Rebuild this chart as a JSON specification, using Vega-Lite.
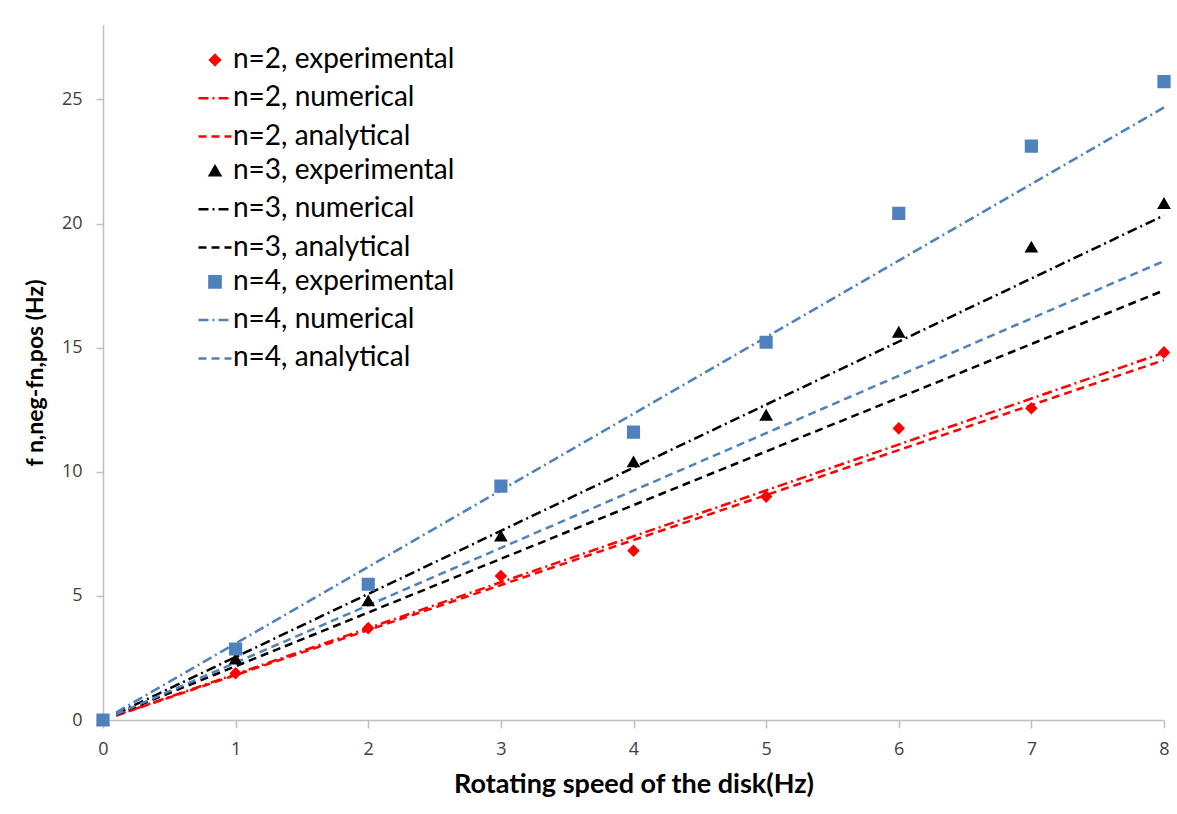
{
  "$schema": "https://vega.github.io/schema/vega-lite/v6.json",
  "width": 1061,
  "height": 695,
  "autosize": {"type": "none"},
  "padding": {"left": 103, "top": 25, "right": 13, "bottom": 94},
  "background": "white",
  "config": {
    "view": {"stroke": null},
    "axis": {
      "grid": false,
      "domainColor": "#bfbfbf",
      "domainWidth": 1.5,
      "tickColor": "#bfbfbf",
      "tickWidth": 1.5,
      "labelColor": "#404040",
      "labelFont": "Open Sans",
      "labelFontSize": 18,
      "titleFont": "Lato",
      "titleFontWeight": "bold",
      "titleColor": "#000000"
    }
  },
  "datasets": {
    "pts": [
      {"speed": 0, "f": 0, "series": "n=2, experimental"},
      {"speed": 1, "f": 1.88, "series": "n=2, experimental"},
      {"speed": 2, "f": 3.7, "series": "n=2, experimental"},
      {"speed": 3, "f": 5.8, "series": "n=2, experimental"},
      {"speed": 4, "f": 6.82, "series": "n=2, experimental"},
      {"speed": 5, "f": 9.0, "series": "n=2, experimental"},
      {"speed": 6, "f": 11.75, "series": "n=2, experimental"},
      {"speed": 7, "f": 12.56, "series": "n=2, experimental"},
      {"speed": 8, "f": 14.81, "series": "n=2, experimental"},
      {"speed": 0, "f": 0, "series": "n=3, experimental"},
      {"speed": 1, "f": 2.46, "series": "n=3, experimental"},
      {"speed": 2, "f": 4.8, "series": "n=3, experimental"},
      {"speed": 3, "f": 7.41, "series": "n=3, experimental"},
      {"speed": 4, "f": 10.4, "series": "n=3, experimental"},
      {"speed": 5, "f": 12.28, "series": "n=3, experimental"},
      {"speed": 6, "f": 15.62, "series": "n=3, experimental"},
      {"speed": 7, "f": 19.05, "series": "n=3, experimental"},
      {"speed": 8, "f": 20.81, "series": "n=3, experimental"},
      {"speed": 0, "f": 0, "series": "n=4, experimental"},
      {"speed": 1, "f": 2.86, "series": "n=4, experimental"},
      {"speed": 2, "f": 5.47, "series": "n=4, experimental"},
      {"speed": 3, "f": 9.42, "series": "n=4, experimental"},
      {"speed": 4, "f": 11.6, "series": "n=4, experimental"},
      {"speed": 5, "f": 15.22, "series": "n=4, experimental"},
      {"speed": 6, "f": 20.41, "series": "n=4, experimental"},
      {"speed": 7, "f": 23.12, "series": "n=4, experimental"},
      {"speed": 8, "f": 25.72, "series": "n=4, experimental"}
    ],
    "lines": [
      {"speed": 0.1, "f": 0.185, "series": "n=2, numerical"},
      {"speed": 8, "f": 14.8, "series": "n=2, numerical"},
      {"speed": 0.1, "f": 0.18, "series": "n=2, analytical"},
      {"speed": 8, "f": 14.5, "series": "n=2, analytical"},
      {"speed": 0.1, "f": 0.25, "series": "n=3, numerical"},
      {"speed": 8, "f": 20.33, "series": "n=3, numerical"},
      {"speed": 0.1, "f": 0.22, "series": "n=3, analytical"},
      {"speed": 8, "f": 17.31, "series": "n=3, analytical"},
      {"speed": 0.1, "f": 0.31, "series": "n=4, numerical"},
      {"speed": 8, "f": 24.68, "series": "n=4, numerical"},
      {"speed": 0.1, "f": 0.23, "series": "n=4, analytical"},
      {"speed": 8, "f": 18.49, "series": "n=4, analytical"}
    ]
  },
  "encoding": {
    "x": {
      "field": "speed",
      "type": "quantitative",
      "scale": {"domain": [0, 8], "nice": false, "zero": true},
      "axis": {
        "title": "Rotating speed of the disk(Hz)",
        "titleFontSize": 27,
        "values": [0, 1, 2, 3, 4, 5, 6, 7, 8],
        "tickSize": 8,
        "labelPadding": 12,
        "titlePadding": 13,
        "labelFlush": false
      }
    },
    "y": {
      "field": "f",
      "type": "quantitative",
      "scale": {"domain": [0, 28], "nice": false},
      "axis": {
        "title": "f n,neg-fn,pos (Hz)",
        "titleFontSize": 23,
        "values": [0, 5, 10, 15, 20, 25],
        "tickSize": 7,
        "labelPadding": 14,
        "titlePadding": 14
      }
    },
    "color": {
      "field": "series",
      "type": "nominal",
      "scale": {
        "domain": ["n=2, experimental", "n=2, numerical", "n=2, analytical", "n=3, experimental", "n=3, numerical", "n=3, analytical", "n=4, experimental", "n=4, numerical", "n=4, analytical"],
        "range": ["#ff0000", "#ff0000", "#ff0000", "#000000", "#000000", "#000000", "#4f81bd", "#4f81bd", "#4f81bd"]
      },
      "legend": {"title": null, "orient": "none", "legendX": 94, "legendY": 21, "padding": 0, "labelFont": "Lato", "labelFontSize": 28, "labelColor": "#000000", "labelOffset": 0, "labelLimit": 500, "rowPadding": 6.3, "symbolStrokeWidth": 2.5}
    }
  },
  "layer": [
    {
      "data": {"name": "lines"},
      "mark": {"type": "line", "strokeWidth": 2.5},
      "encoding": {
        "strokeDash": {
          "field": "series",
          "type": "nominal",
          "scale": {
            "domain": ["n=2, experimental", "n=2, numerical", "n=2, analytical", "n=3, experimental", "n=3, numerical", "n=3, analytical", "n=4, experimental", "n=4, numerical", "n=4, analytical"],
            "range": [[1, 0], [10, 4, 2, 4], [8, 5], [1, 0], [10, 4, 2, 4], [8, 5], [1, 0], [10, 4, 2, 4], [8, 5]]
          },
          "legend": {"title": null, "orient": "none", "legendX": 94, "legendY": 21, "padding": 0, "labelFont": "Lato", "labelFontSize": 28, "labelColor": "#000000", "labelOffset": 0, "labelLimit": 500, "rowPadding": 6.3, "symbolStrokeWidth": 2.5}
        }
      }
    },
    {
      "data": {"name": "pts"},
      "mark": {"type": "point", "filled": false, "opacity": 1, "strokeWidth": 2},
      "encoding": {
        "fill": {
          "field": "series",
          "type": "nominal",
          "scale": {
            "domain": ["n=2, experimental", "n=2, numerical", "n=2, analytical", "n=3, experimental", "n=3, numerical", "n=3, analytical", "n=4, experimental", "n=4, numerical", "n=4, analytical"],
            "range": ["#ff0000", "#ff0000", "#ff0000", "#000000", "#000000", "#000000", "#4f81bd", "#4f81bd", "#4f81bd"]
          },
          "legend": {"title": null, "orient": "none", "legendX": 94, "legendY": 21, "padding": 0, "labelFont": "Lato", "labelFontSize": 28, "labelColor": "#000000", "labelOffset": 0, "labelLimit": 500, "rowPadding": 6.3, "symbolStrokeWidth": 2.5}
        },
        "shape": {
          "field": "series",
          "type": "nominal",
          "scale": {
            "domain": ["n=2, experimental", "n=2, numerical", "n=2, analytical", "n=3, experimental", "n=3, numerical", "n=3, analytical", "n=4, experimental", "n=4, numerical", "n=4, analytical"],
            "range": ["diamond", "stroke", "stroke", "triangle-up", "stroke", "stroke", "square", "stroke", "stroke"]
          },
          "legend": {"title": null, "orient": "none", "legendX": 94, "legendY": 21, "padding": 0, "labelFont": "Lato", "labelFontSize": 28, "labelColor": "#000000", "labelOffset": 0, "labelLimit": 500, "rowPadding": 6.3, "symbolStrokeWidth": 2.5}
        },
        "size": {
          "field": "series",
          "type": "nominal",
          "scale": {
            "type": "ordinal",
            "domain": ["n=2, experimental", "n=2, numerical", "n=2, analytical", "n=3, experimental", "n=3, numerical", "n=3, analytical", "n=4, experimental", "n=4, numerical", "n=4, analytical"],
            "range": [95, 1089, 1089, 105, 1089, 1089, 125, 1089, 1089]
          },
          "legend": {"title": null, "orient": "none", "legendX": 94, "legendY": 21, "padding": 0, "labelFont": "Lato", "labelFontSize": 28, "labelColor": "#000000", "labelOffset": 0, "labelLimit": 500, "rowPadding": 6.3, "symbolStrokeWidth": 2.5}
        }
      }
    }
  ]
}
